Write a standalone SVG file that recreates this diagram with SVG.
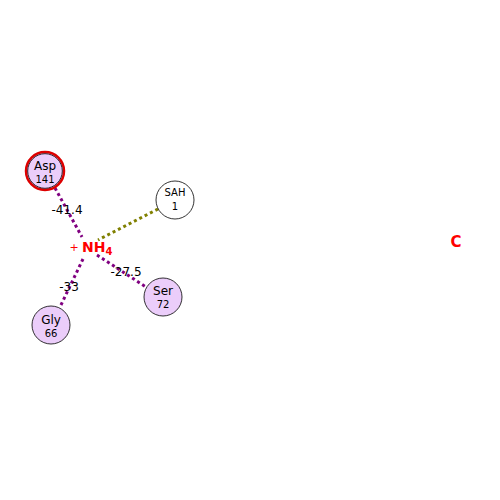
<svg xmlns="http://www.w3.org/2000/svg" width="500" height="500" viewBox="0 0 500 500">
<style>
.node{fill:#ebcdfa;stroke:#000;stroke-width:0.8}
.t{font-family:"DejaVu Sans",sans-serif;fill:#000;text-anchor:middle}
.e{fill:none;stroke:#800080;stroke-width:3;stroke-dasharray:3,3}
.el{font-family:"DejaVu Sans",sans-serif;font-size:12px;fill:#000;text-anchor:middle}
</style>
<rect width="500" height="500" fill="#fff"/>
<g id="edges">
<line class="e" x1="55" y1="188" x2="82" y2="237"/>
<line class="e" x1="158" y1="209" x2="98" y2="240" style="stroke:#808000"/>
<line class="e" x1="97" y1="255" x2="146" y2="287"/>
<line class="e" x1="83" y1="259" x2="60" y2="307"/>
<text class="el" x="67" y="214">-41.4</text>
<text class="el" x="126" y="276">-27.5</text>
<text class="el" x="69" y="291">-33</text>
</g>
<g id="Asp">
<circle cx="45" cy="171" r="19" class="node" style="stroke:#d00;stroke-width:2.5"/>
<circle cx="45" cy="171" r="17.3" fill="none" stroke="#000" stroke-width="0.8"/>
<text class="t" x="45" y="170" font-size="12">Asp</text>
<text class="t" x="45" y="183" font-size="10">141</text>
</g>
<g id="SAH">
<circle cx="175" cy="200" r="19" class="node" style="fill:#fff"/>
<text class="t" x="175" y="196" font-size="10">SAH</text>
<text class="t" x="175" y="210" font-size="10">1</text>
</g>
<g id="Ser">
<circle cx="163" cy="297" r="19" class="node"/>
<text class="t" x="163" y="295" font-size="12">Ser</text>
<text class="t" x="163" y="308" font-size="10">72</text>
</g>
<g id="Gly">
<circle cx="51" cy="325" r="19" class="node"/>
<text class="t" x="51" y="324" font-size="12">Gly</text>
<text class="t" x="51" y="337" font-size="10">66</text>
</g>
<g id="NH4">
<text x="74" y="251" font-family="DejaVu Sans,sans-serif" font-size="11" fill="#f00" text-anchor="middle">+</text>
<text x="82" y="252" font-family="DejaVu Sans,sans-serif" font-size="14" font-weight="bold" fill="#f00">NH<tspan font-size="10" dy="3">4</tspan></text>
</g>
<g id="C">
<text x="456" y="247" font-family="DejaVu Sans,sans-serif" font-size="15" font-weight="bold" fill="#f00" text-anchor="middle">C</text>
</g>
</svg>
